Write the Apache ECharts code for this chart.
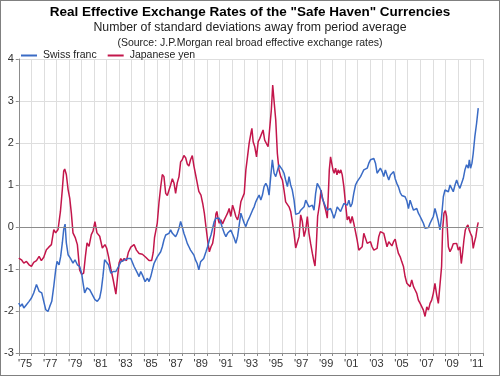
<!DOCTYPE html>
<html>
<head>
<meta charset="utf-8">
<script src="https://cdn.jsdelivr.net/npm/echarts@6/dist/echarts.min.js"></script>
<style>
  html, body { margin: 0; padding: 0; background: #fff; }
  #chart { width: 500px; height: 376px; box-sizing: border-box; border: 1px solid #808080; }
</style>
</head>
<body>
<div id="chart"></div>
<script>
// year bands on the x axis
const yearLabels = ["'75", "'76", "'77", "'78", "'79", "'80", "'81", "'82", "'83", "'84",
  "'85", "'86", "'87", "'88", "'89", "'90", "'91", "'92", "'93", "'94",
  "'95", "'96", "'97", "'98", "'99", "'00", "'01", "'02", "'03", "'04",
  "'05", "'06", "'07", "'08", "'09", "'10", "'11"];

// [year, std devs from average]
const swissFranc = [
  [1975.00,-1.81],[1975.13,-1.89],[1975.27,-1.83],[1975.40,-1.93],[1975.61,-1.85],[1975.82,-1.77],
  [1976.01,-1.69],[1976.19,-1.57],[1976.41,-1.37],[1976.62,-1.53],[1976.83,-1.57],[1976.99,-1.77],
  [1977.15,-1.97],[1977.33,-2.01],[1977.47,-1.89],[1977.63,-1.77],[1977.79,-1.41],[1977.94,-1.02],
  [1978.05,-0.82],[1978.21,-0.90],[1978.34,-0.70],[1978.47,-0.38],[1978.58,-0.06],[1978.69,0.07],
  [1978.79,-0.38],[1978.93,-0.66],[1979.11,-0.74],[1979.32,-0.86],[1979.48,-0.78],[1979.67,-0.90],
  [1979.85,-0.94],[1980.01,-1.10],[1980.12,-1.33],[1980.25,-1.57],[1980.44,-1.45],[1980.65,-1.49],
  [1980.86,-1.61],[1981.07,-1.73],[1981.26,-1.77],[1981.45,-1.69],[1981.58,-1.49],[1981.71,-1.17],
  [1981.84,-0.78],[1981.97,-0.74],[1982.15,-0.90],[1982.34,-1.10],[1982.52,-1.06],[1982.74,-1.06],
  [1982.95,-0.94],[1983.13,-0.83],[1983.40,-0.79],[1983.66,-0.75],[1983.93,-0.75],[1984.19,-0.94],
  [1984.46,-1.10],[1984.59,-1.18],[1984.72,-1.06],[1984.85,-1.14],[1985.07,-1.30],[1985.25,-1.22],
  [1985.38,-1.30],[1985.52,-1.18],[1985.65,-1.02],[1985.78,-0.87],[1985.91,-0.79],[1986.04,-0.71],
  [1986.18,-0.67],[1986.31,-0.59],[1986.44,-0.47],[1986.57,-0.31],[1986.71,-0.19],[1986.84,-0.23],
  [1986.97,-0.15],[1987.10,-0.07],[1987.24,-0.15],[1987.37,-0.11],[1987.50,-0.23],[1987.63,-0.15],
  [1987.77,-0.03],[1987.90,0.13],[1988.03,0.00],[1988.16,-0.15],[1988.30,-0.27],[1988.43,-0.39],
  [1988.56,-0.47],[1988.69,-0.55],[1988.83,-0.51],[1988.96,-0.67],[1989.09,-0.79],[1989.22,-0.87],
  [1989.35,-1.02],[1989.49,-0.83],[1989.74,-0.75],[1989.92,-0.59],[1990.05,-0.47],[1990.19,-0.31],
  [1990.32,-0.19],[1990.45,-0.15],[1990.58,0.13],[1990.71,0.21],[1990.85,0.25],[1990.98,0.21],
  [1991.11,0.17],[1991.24,-0.03],[1991.38,-0.15],[1991.51,-0.23],[1991.64,-0.15],[1991.77,-0.19],
  [1991.90,-0.07],[1992.04,-0.11],[1992.17,-0.27],[1992.30,-0.39],[1992.44,-0.23],[1992.57,0.05],
  [1992.70,0.33],[1992.83,0.21],[1992.97,0.09],[1993.10,0.01],[1993.23,0.13],[1993.36,0.21],
  [1993.50,0.17],[1993.63,0.40],[1993.76,0.48],[1993.89,0.60],[1994.02,0.68],[1994.16,0.76],
  [1994.29,0.64],[1994.42,0.76],[1994.55,0.96],[1994.69,1.04],[1994.82,0.96],[1994.95,0.76],
  [1995.08,1.20],[1995.21,1.60],[1995.35,1.28],[1995.48,1.20],[1995.61,1.24],[1995.74,1.48],
  [1995.88,1.44],[1996.01,1.36],[1996.14,1.28],[1996.27,1.12],[1996.41,0.96],[1996.54,1.20],
  [1996.67,1.00],[1996.80,0.88],[1996.94,0.64],[1997.07,0.30],[1997.20,0.29],[1997.34,0.33],
  [1997.47,0.40],[1997.60,0.37],[1997.74,0.48],[1997.87,0.64],[1998.00,0.60],[1998.13,0.48],
  [1998.26,0.44],[1998.40,0.52],[1998.53,0.40],[1998.66,0.80],[1998.79,1.04],[1998.93,0.96],
  [1999.06,0.88],[1999.19,0.68],[1999.32,0.64],[1999.46,0.48],[1999.59,0.40],[1999.72,0.37],
  [1999.85,0.44],[1999.99,0.33],[2000.12,0.21],[2000.25,0.33],[2000.38,0.48],[2000.52,0.48],
  [2000.65,0.37],[2000.78,0.40],[2000.91,0.56],[2001.04,0.56],[2001.18,0.52],[2001.31,0.64],
  [2001.44,0.48],[2001.57,0.56],[2001.70,0.80],[2001.84,1.00],[2001.97,1.08],[2002.10,1.04],
  [2002.24,1.20],[2002.37,1.28],[2002.50,1.36],[2002.63,1.32],[2002.77,1.40],[2002.90,1.52],
  [2003.03,1.60],[2003.16,1.56],[2003.30,1.63],[2003.43,1.52],[2003.56,1.28],[2003.69,1.24],
  [2003.82,1.40],[2003.96,1.32],[2004.09,1.20],[2004.22,1.36],[2004.35,1.24],[2004.49,1.12],
  [2004.62,1.24],[2004.75,1.20],[2004.88,1.32],[2005.00,1.15],[2005.13,1.04],[2005.27,0.95],
  [2005.40,0.82],[2005.53,0.75],[2005.66,0.78],[2005.79,0.72],[2005.93,0.62],[2006.06,0.44],
  [2006.19,0.64],[2006.32,0.52],[2006.46,0.40],[2006.59,0.36],[2006.72,0.44],[2006.85,0.33],
  [2006.99,0.25],[2007.12,0.17],[2007.25,0.09],[2007.38,-0.03],[2007.52,0.01],[2007.65,-0.01],
  [2007.78,0.09],[2007.91,0.17],[2008.04,0.25],[2008.17,0.44],[2008.31,0.29],[2008.44,0.13],
  [2008.57,-0.07],[2008.70,0.25],[2008.84,0.72],[2008.97,0.88],[2009.10,0.92],[2009.24,0.84],
  [2009.37,1.00],[2009.50,0.92],[2009.63,0.84],[2009.77,1.00],[2009.90,1.12],[2010.03,1.00],
  [2010.16,0.92],[2010.30,0.88],[2010.43,1.16],[2010.56,1.36],[2010.69,1.48],[2010.83,1.40],
  [2010.91,1.60],[2011.01,1.40],[2011.12,1.52],[2011.22,1.75],[2011.35,2.15],[2011.49,2.47],
  [2011.62,2.83]
];

const japaneseYen = [
  [1975.00,-0.74],[1975.21,-0.78],[1975.40,-0.86],[1975.61,-0.82],[1975.82,-0.90],[1976.01,-0.94],
  [1976.19,-0.84],[1976.41,-0.80],[1976.62,-0.70],[1976.80,-0.80],[1976.99,-0.72],[1977.20,-0.54],
  [1977.39,-0.48],[1977.60,-0.42],[1977.79,-0.06],[1977.94,-0.14],[1978.13,-0.06],[1978.32,0.37],
  [1978.47,0.89],[1978.58,1.33],[1978.66,1.38],[1978.79,1.25],[1978.93,0.89],[1979.06,0.69],
  [1979.19,0.33],[1979.32,-0.14],[1979.51,-0.26],[1979.67,-0.42],[1979.85,-1.02],[1980.01,-1.13],
  [1980.17,-1.10],[1980.31,-0.70],[1980.44,-0.38],[1980.60,-0.46],[1980.78,-0.18],[1980.92,-0.10],
  [1981.07,0.13],[1981.23,-0.14],[1981.45,-0.22],[1981.66,-0.50],[1981.87,-0.42],[1982.00,-0.50],
  [1982.15,-0.70],[1982.34,-1.00],[1982.52,-1.25],[1982.74,-1.60],[1982.87,-1.20],[1983.00,-0.85],
  [1983.13,-0.75],[1983.26,-0.82],[1983.40,-0.75],[1983.58,-0.80],[1983.74,-0.60],[1983.93,-0.48],
  [1984.19,-0.42],[1984.38,-0.55],[1984.59,-0.63],[1984.85,-0.65],[1985.12,-0.72],[1985.38,-0.80],
  [1985.59,-0.80],[1985.72,-0.60],[1985.82,-0.25],[1985.93,-0.08],[1986.04,0.10],[1986.18,0.60],
  [1986.31,0.95],[1986.44,1.25],[1986.57,1.20],[1986.71,0.80],[1986.84,0.75],[1986.97,0.75],
  [1987.10,1.00],[1987.24,1.15],[1987.37,1.05],[1987.50,0.80],[1987.63,1.05],[1987.77,1.20],
  [1987.90,1.55],[1988.03,1.60],[1988.16,1.70],[1988.30,1.65],[1988.43,1.50],[1988.56,1.45],
  [1988.69,1.60],[1988.83,1.70],[1988.96,1.45],[1989.09,1.25],[1989.22,1.05],[1989.35,0.85],
  [1989.52,0.76],[1989.66,0.56],[1989.79,0.33],[1989.92,0.00],[1990.05,-0.31],[1990.19,-0.59],
  [1990.32,-0.47],[1990.45,-0.39],[1990.58,-0.15],[1990.71,0.31],[1990.79,0.37],[1990.90,0.17],
  [1990.98,0.09],[1991.11,0.17],[1991.24,0.07],[1991.38,0.17],[1991.51,0.25],[1991.64,0.33],
  [1991.77,0.44],[1991.90,0.25],[1992.04,0.52],[1992.17,0.40],[1992.30,0.25],[1992.44,0.17],
  [1992.57,0.33],[1992.70,0.60],[1992.83,0.63],[1992.97,0.80],[1993.10,1.36],[1993.23,1.67],
  [1993.36,1.99],[1993.50,2.23],[1993.58,2.35],[1993.68,2.03],[1993.81,1.91],[1993.95,1.67],
  [1994.08,2.03],[1994.21,2.11],[1994.34,2.07],[1994.47,2.31],[1994.60,2.07],[1994.74,2.11],
  [1994.87,1.91],[1995.00,1.91],[1995.13,2.79],[1995.24,3.38],[1995.34,3.02],[1995.48,2.55],
  [1995.61,1.75],[1995.74,1.36],[1995.88,1.20],[1996.01,1.12],[1996.14,0.88],[1996.27,0.60],
  [1996.41,0.60],[1996.54,0.48],[1996.67,0.37],[1996.80,0.13],[1996.94,-0.15],[1997.07,-0.50],
  [1997.20,-0.50],[1997.34,-0.23],[1997.47,0.29],[1997.60,0.13],[1997.74,-0.23],[1997.87,-0.07],
  [1998.00,0.25],[1998.13,-0.15],[1998.26,-0.39],[1998.40,-0.63],[1998.53,-0.83],[1998.61,-0.93],
  [1998.71,-0.47],[1998.82,0.25],[1998.98,0.56],[1999.09,0.88],[1999.19,0.72],[1999.32,0.56],
  [1999.46,0.40],[1999.59,0.21],[1999.67,0.76],[1999.75,1.36],[1999.85,1.67],[1999.93,1.69],
  [2000.04,1.36],[2000.14,1.28],[2000.25,1.40],[2000.36,1.24],[2000.46,1.36],[2000.57,1.28],
  [2000.67,1.36],[2000.78,1.24],[2000.91,0.96],[2001.04,0.56],[2001.18,0.17],[2001.31,0.25],
  [2001.44,0.09],[2001.57,0.25],[2001.70,0.09],[2001.84,0.05],[2001.97,-0.31],[2002.10,-0.55],
  [2002.24,-0.59],[2002.37,-0.47],[2002.50,-0.15],[2002.63,-0.11],[2002.77,-0.39],[2002.90,-0.43],
  [2003.03,-0.35],[2003.16,-0.47],[2003.30,-0.55],[2003.43,-0.59],[2003.56,-0.51],[2003.69,-0.23],
  [2003.82,-0.11],[2003.96,-0.09],[2004.09,-0.15],[2004.22,-0.31],[2004.35,-0.47],[2004.49,-0.35],
  [2004.62,-0.39],[2004.74,-0.45],[2004.87,-0.35],[2005.00,-0.29],[2005.13,-0.47],[2005.26,-0.63],
  [2005.40,-0.71],[2005.53,-0.83],[2005.66,-0.94],[2005.79,-1.18],[2005.93,-1.34],[2006.06,-1.30],
  [2006.19,-1.42],[2006.32,-1.26],[2006.46,-1.42],[2006.59,-1.50],[2006.72,-1.58],[2006.85,-1.74],
  [2006.99,-1.82],[2007.12,-1.78],[2007.25,-1.98],[2007.38,-2.13],[2007.52,-1.90],[2007.65,-1.98],
  [2007.78,-1.82],[2007.91,-1.74],[2008.04,-1.58],[2008.17,-1.34],[2008.31,-1.62],[2008.44,-1.82],
  [2008.57,-1.82],[2008.70,-0.94],[2008.78,-0.07],[2008.89,0.33],[2009.00,0.39],[2009.10,0.25],
  [2009.24,-0.47],[2009.37,-0.59],[2009.50,-0.51],[2009.63,-0.40],[2009.77,-0.43],[2009.90,-0.39],
  [2010.03,-0.55],[2010.16,-0.47],[2010.27,-0.87],[2010.37,-0.63],[2010.48,-0.31],[2010.59,-0.07],
  [2010.69,0.00],[2010.80,0.05],[2010.90,-0.07],[2011.00,-0.15],[2011.12,-0.23],[2011.22,-0.51],
  [2011.33,-0.35],[2011.43,-0.23],[2011.54,0.00],[2011.62,0.11]
];

const font = "'Liberation Sans', Arial, sans-serif";
const chart = echarts.init(document.getElementById('chart'));

chart.setOption({
  animation: false,
  textStyle: { fontFamily: font },
  title: [
    {
      text: 'Real Effective Exchange Rates of the "Safe Haven" Currencies',
      left: 'center', top: 4, padding: 0,
      textStyle: { fontSize: 13.5, fontWeight: 'bold', color: '#000', fontFamily: font }
    },
    {
      text: 'Number of standard deviations away from period average',
      left: 'center', top: 21, padding: 0,
      textStyle: { fontSize: 12.3, fontWeight: 'normal', color: '#222', fontFamily: font }
    },
    {
      text: '(Source: J.P.Morgan real broad effective exchange rates)',
      left: 'center', top: 37, padding: 0,
      textStyle: { fontSize: 10.5, fontWeight: 'normal', color: '#222', fontFamily: font }
    }
  ],
  legend: {
    left: 20, top: 49, padding: 0,
    icon: 'rect', itemWidth: 16, itemHeight: 2, itemGap: 11,
    textStyle: { fontSize: 10.5, color: '#222', fontFamily: font, padding: [0, 0, 0, 1] },
    data: ['Swiss franc', 'Japanese yen']
  },
  grid: { left: 16, right: 16, top: 58, bottom: 22 },
  xAxis: [
    {
      type: 'category',
      data: yearLabels,
      boundaryGap: true,
      axisLine: { onZero: false, lineStyle: { color: '#8c8c8c' } },
      axisTick: { show: true, interval: 0, length: 3, lineStyle: { color: '#8c8c8c' } },
      axisLabel: { interval: 1, fontSize: 11, color: '#333', margin: 5 },
      splitLine: { show: true, interval: 0, lineStyle: { color: '#dedede' } }
    },
    { type: 'value', min: 1975, max: 2012, show: false }
  ],
  yAxis: {
    type: 'value',
    min: -3, max: 4, interval: 1,
    axisLine: { show: true, lineStyle: { color: '#8c8c8c' } },
    axisTick: { show: true, length: 3, lineStyle: { color: '#8c8c8c' } },
    axisLabel: { fontSize: 11, color: '#333', margin: 5 },
    splitLine: { lineStyle: { color: '#dedede' } }
  },
  series: [
    {
      name: 'Swiss franc',
      type: 'line',
      xAxisIndex: 1,
      data: swissFranc,
      showSymbol: false,
      color: '#3A6BC5',
      lineStyle: { width: 1.5 },
      z: 3,
      markLine: {
        silent: true, symbol: 'none', label: { show: false },
        lineStyle: { color: '#8c8c8c', type: 'solid', width: 1 },
        data: [{ yAxis: 0 }]
      }
    },
    {
      name: 'Japanese yen',
      type: 'line',
      xAxisIndex: 1,
      data: japaneseYen,
      showSymbol: false,
      color: '#C3164B',
      lineStyle: { width: 1.5 },
      z: 2
    }
  ]
});
</script>
</body>
</html>
